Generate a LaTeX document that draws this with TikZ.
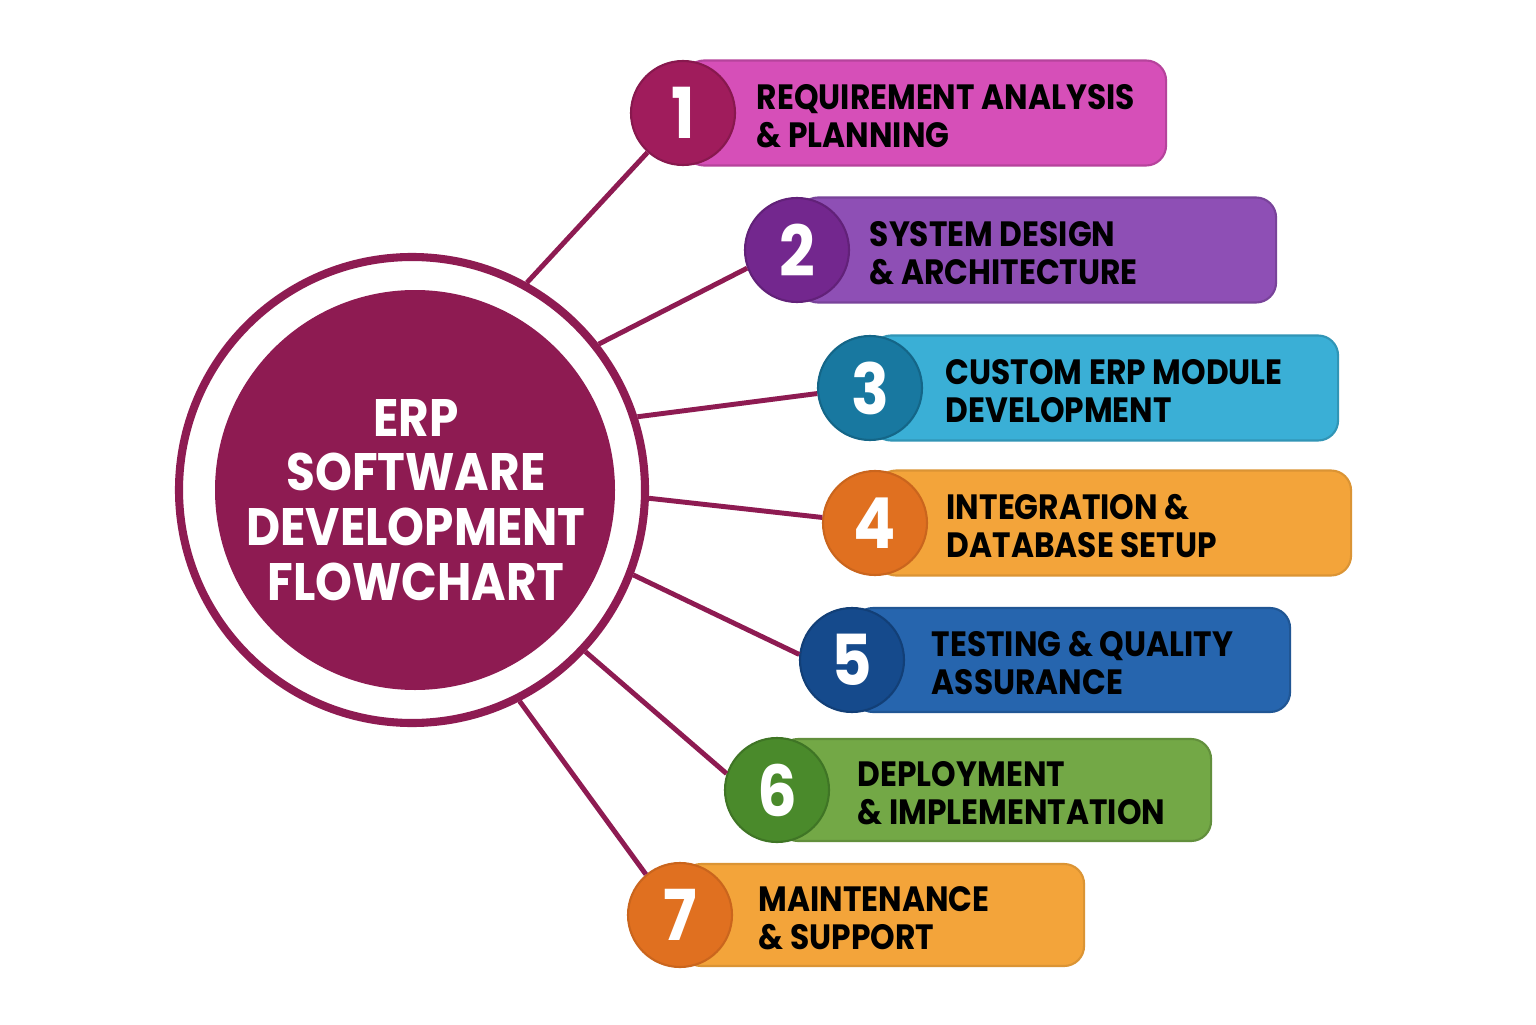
\documentclass[tikz,border=0pt]{standalone}
\usepackage{fontspec}
\setmainfont{Poppins}[FakeStretch=0.89]
\usepackage{tikz}
\usetikzlibrary{positioning,calc}

\definecolor{erpcore}{HTML}{8E1B52}
\definecolor{boxA}{HTML}{D64FB8}\definecolor{numA}{HTML}{A01C5C}
\definecolor{boxB}{HTML}{8E4FB5}\definecolor{numB}{HTML}{73278E}
\definecolor{boxC}{HTML}{3AAFD6}\definecolor{numC}{HTML}{1878A0}
\definecolor{boxD}{HTML}{F3A43A}\definecolor{numD}{HTML}{E07020}
\definecolor{boxE}{HTML}{2665AE}\definecolor{numE}{HTML}{154A8C}
\definecolor{boxF}{HTML}{73A846}\definecolor{numF}{HTML}{4A8A2B}
\definecolor{boxG}{HTML}{F3A43A}\definecolor{numG}{HTML}{E07020}

\begin{document}
\begin{tikzpicture}[
		stepbox/.style={rectangle, rounded corners=0.2cm, anchor=west, minimum height=1.05cm, line width=0.6pt},
		stepnum/.style={circle, minimum size=1.04cm, inner sep=0pt, text=white, line width=0.6pt, font=\bfseries\fontsize{20}{20}\selectfont},
		steptext/.style={anchor=west, inner sep=0pt, align=left, text=black, font=\bfseries\fontsize{10}{10.8}\selectfont},
		spoke/.style={draw=erpcore, line width=1.4pt}
	]
		\useasboundingbox (0,0) rectangle (15.36,10.24);
		\fill[white] (0,0) rectangle (15.36,10.24);
		
		% central hub
		\node[circle, draw=erpcore, line width=2.3pt, minimum size=4.66cm, inner sep=0pt] (ring) at (4.12,5.34) {};
		\node[circle, fill=erpcore, minimum size=4.0cm, inner sep=0pt] (hub) at (4.15,5.34) {};
		\node[align=center, text=white, font=\bfseries\fontsize{15}{15.6}\selectfont] (title) at (4.16,5.24) {ERP\\SOFTWARE\\DEVELOPMENT\\FLOWCHART};
		
		% circle centres of the steps
		\coordinate (p1) at (6.83,9.11);
		\coordinate (p2) at (7.97,7.74);
		\coordinate (p3) at (8.70,6.36);
		\coordinate (p4) at (8.75,5.01);
		\coordinate (p5) at (8.52,3.64);
		\coordinate (p6) at (7.77,2.34);
		\coordinate (p7) at (6.80,1.09);
		
		% step boxes
		\node[stepbox, fill=boxA, draw=boxA!85!black, minimum width=4.82cm] (b1) at (p1) {};
		\node[stepbox, fill=boxB, draw=boxB!85!black, minimum width=4.78cm] (b2) at (p2) {};
		\node[stepbox, fill=boxC, draw=boxC!85!black, minimum width=4.67cm] (b3) at (p3) {};
		\node[stepbox, fill=boxD, draw=boxD!90!black, minimum width=4.75cm] (b4) at (p4) {};
		\node[stepbox, fill=boxE, draw=boxE!85!black, minimum width=4.37cm, minimum height=1.04cm] (b5) at (p5) {};
		\node[stepbox, fill=boxF, draw=boxF!85!black, minimum width=4.33cm, minimum height=1.02cm] (b6) at (p6) {};
		\node[stepbox, fill=boxG, draw=boxG!90!black, minimum width=4.03cm, minimum height=1.02cm] (b7) at (p7) {};
		
		% numbers
		\node[stepnum, fill=numA, draw=numA!85!black] (n1) at (p1) {1};
		\node[stepnum, fill=numB, draw=numB!85!black] (n2) at (p2) {2};
		\node[stepnum, fill=numC, draw=numC!85!black] (n3) at (p3) {3};
		\node[stepnum, fill=numD, draw=numD!90!black] (n4) at (p4) {4};
		\node[stepnum, fill=numE, draw=numE!85!black] (n5) at (p5) {5};
		\node[stepnum, fill=numF, draw=numF!85!black] (n6) at (p6) {6};
		\node[stepnum, fill=numG, draw=numG!90!black] (n7) at (p7) {7};
		
		% labels
		\node[steptext, right=0.2cm of n1, yshift=-0.03cm] (t1) {REQUIREMENT ANALYSIS\\\& PLANNING};
		\node[steptext, right=0.19cm of n2, yshift=-0.03cm] (t2) {SYSTEM DESIGN\\\& ARCHITECTURE};
		\node[steptext, right=0.22cm of n3, yshift=-0.03cm] (t3) {CUSTOM ERP MODULE\\DEVELOPMENT};
		\node[steptext, right=0.18cm of n4, yshift=-0.03cm] (t4) {INTEGRATION \&\\DATABASE SETUP};
		\node[steptext, right=0.26cm of n5, yshift=-0.03cm] (t5) {TESTING \& QUALITY\\ASSURANCE};
		\node[steptext, right=0.27cm of n6, yshift=-0.03cm] (t6) {DEPLOYMENT\\\& IMPLEMENTATION};
		\node[steptext, right=0.25cm of n7, yshift=-0.03cm] (t7) {MAINTENANCE\\\& SUPPORT};
		
		% connectors
		\draw[spoke] (ring.61) -- (n1.228);
		\draw[spoke] (ring.38.6) -- (n2.200);
		\draw[spoke] (ring.18.2) -- (n3.186);
		\draw[spoke] (ring.-2.9) -- (n4.174);
		\draw[spoke] (ring.-21.5) -- (n5.174);
		\draw[spoke] (ring.-43.2) -- (n6.162);
		\draw[spoke] (ring.-63.5) -- (n7.130);
	\end{tikzpicture}
\end{document}
